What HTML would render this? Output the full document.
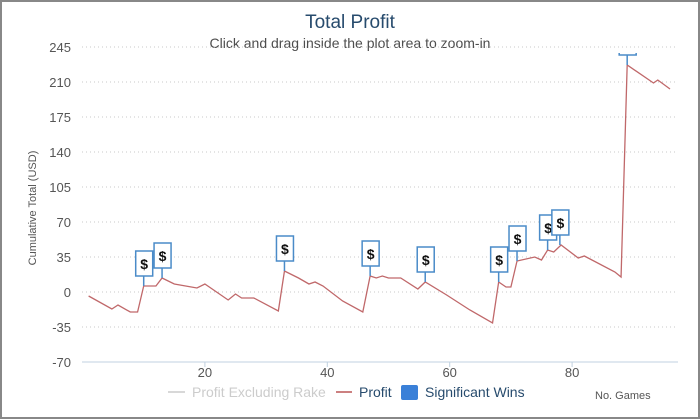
<!DOCTYPE html>
<html><head><meta charset="utf-8"><style>
body{margin:0;background:#fff;}
svg{display:block;font-family:"Liberation Sans","DejaVu Sans",sans-serif;}
</style></head><body>
<svg id="chart" width="700" height="419">
<rect x="1" y="1" width="698" height="417" fill="#fff" stroke="#888" stroke-width="2"/>
<text x="350" y="28" text-anchor="middle" font-size="19" fill="#274b6d">Total Profit</text>
<text x="350" y="48" text-anchor="middle" font-size="14" fill="#4d4d4d">Click and drag inside the plot area to zoom-in</text>
<text transform="translate(36,208) rotate(-90)" text-anchor="middle" font-size="11" fill="#555">Cumulative Total (USD)</text>
<g id="grid"></g><g id="xaxis"></g>
<defs><clipPath id="pc"><rect x="82" y="53" width="600" height="320"/></clipPath></defs>
<g id="series" clip-path="url(#pc)"></g>
<g>
<line x1="168" y1="392" x2="185" y2="392" stroke="#ccc" stroke-width="1.5"/>
<text x="192" y="397" font-size="14" fill="#ccc">Profit Excluding Rake</text>
<line x1="336" y1="392" x2="352" y2="392" stroke="#b55" stroke-width="1.5"/>
<text x="359" y="397" font-size="14" fill="#274b6d">Profit</text>
<rect x="401" y="385" width="17" height="15" rx="2" fill="#3a80d8"/>
<text x="425" y="397" font-size="14" fill="#274b6d">Significant Wins</text>
</g>
<text x="595" y="399" font-size="11" fill="#555">No. Games</text>
</svg>
<script>
const games=[1,4.8,5.8,7.8,9,10,12,13,15,18.7,20,23.8,25,26,28,32,33,35.3,37,38,39.3,42.5,45.8,47,48,49,50,52,54.8,56,59.5,63.3,67,68,69.2,70,71,73.9,75,76,77,78.2,81,82,87,88,89,93.3,94,96];
const profit=[-4,-17,-13,-20,-20,6,6,14,8,4,8,-8,-2,-6,-6,-19,21,14,8,10,6,-9,-20,16,14,16,14,14,3,10,-3,-18,-31,10,5,5,31,35,32,42,40,47,34,36,20,15,227,209,212,203];
const winGames=[10,13,33,47,56,68,71,76,78,89];
const winValues=[6,14,21,16,10,10,31,42,47,227];
const yTicks=[-70,-35,0,35,70,105,140,175,210,245];
const xTicks=[20,40,60,80];
const NS="http://www.w3.org/2000/svg";
function X(g){return 82.5+g*6.12;}
function Y(v){return 292-v;}
function mk(t,a,p){const e=document.createElementNS(NS,t);for(const k in a)e.setAttribute(k,a[k]);p.appendChild(e);return e;}
const grid=document.getElementById('grid'),xa=document.getElementById('xaxis'),ser=document.getElementById('series');
yTicks.forEach(v=>{
 const l=mk('line',{x1:82,x2:678,y1:Y(v),y2:Y(v),stroke:'#c8c8c8','stroke-dasharray':'1,3'},grid);
 
 
 const t=mk('text',{x:71,y:Y(v)+5,'text-anchor':'end','font-size':13,fill:'#555'},grid);t.textContent=v;
 
 
});
const ax=mk('line',{x1:82,x2:678,y1:362,y2:362,stroke:'#c0d0e0'},xa);


xTicks.forEach(v=>{
 mk('line',{x1:X(v),x2:X(v),y1:362,y2:367,stroke:'#c0d0e0'},xa);
 const t=mk('text',{x:X(v),y:377,'text-anchor':'middle','font-size':13,fill:'#555'},xa);t.textContent=v;
 
 
});
const pl=mk('polyline',{points:games.map((g,i)=>X(g)+','+Y(profit[i])).join(' '),fill:'none',stroke:'#c0686a','stroke-width':1.3},ser);


winGames.forEach((g,i)=>{
 const x=X(g),y=Y(winValues[i]);
 const f=mk('g',{},ser);
 
 
 mk('line',{x1:x,x2:x,y1:y,y2:y-10,stroke:'#4a8bc8','stroke-width':1.5},f);
 mk('rect',{x:x-8,y:y-35,width:17,height:25,fill:'#fff',stroke:'#4a8bc8','stroke-width':1.5},f);
 const t=mk('text',{x:x+0.5,y:y-17,'text-anchor':'middle','font-size':14,'font-weight':'bold',fill:'#111'},f);t.textContent='$';
});
</script>
</body></html>
